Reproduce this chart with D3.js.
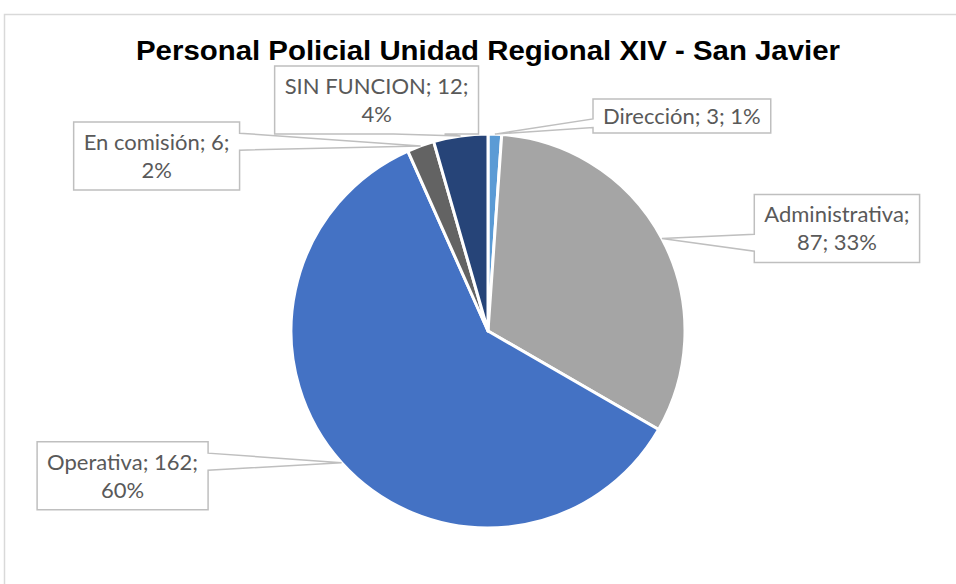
<!DOCTYPE html>
<html>
<head>
<meta charset="utf-8">
<script src="https://cdn.jsdelivr.net/npm/d3@7"></script>
<style>
  body { margin: 0; background: #fff; }
</style>
</head>
<body>
<div id="chart"></div>
<script>
const title = 'Personal Policial Unidad Regional XIV - San Javier'
const categories = ['Dirección', 'Administrativa', 'Operativa', 'En comisión', 'SIN FUNCION']
const values = [3, 87, 162, 6, 12]
const percentLabels = ['1%', '33%', '60%', '2%', '4%']
const colors = ['#5b9bd5', '#a5a5a5', '#4472c4', '#636363', '#264478']

const width = 956
const height = 584
const cx = 488
const cy = 331
const radius = 197
// centre of each label box, relative to the point on the slice edge
const labelOffsets = [[187, -18], [175, -10], [-219, 13], [-264, 10], [-84, -36]]
// text width at which each label wraps
const wrapWidths = [200, 170, 170, 170, 190]
const FONT_SIZE = 22
const LINE_H = 28
const PAD_X = 10

const svg = d3.select('#chart').append('svg')
  .attr('width', width).attr('height', height)

// chart area frame (continues past the right and bottom edge)
svg.append('rect')
  .attr('x', 4.5).attr('y', 14.5).attr('width', 1000).attr('height', 1000)
  .attr('fill', '#fff').attr('stroke', '#d9d9d9').attr('stroke-width', 1.5)

svg.append('text')
  .attr('x', cx).attr('y', 60)
  .attr('text-anchor', 'middle')
  .attr('font-family', '"Liberation Sans", Arial, sans-serif')
  .attr('font-weight', 'bold').attr('font-size', 27)
  .attr('textLength', 704).attr('lengthAdjust', 'spacingAndGlyphs')
  .attr('fill', '#000')
  .text(title)

const pie = d3.pie().sort(null).value(d => d)
const arcs = pie(values)
const arc = d3.arc().innerRadius(0).outerRadius(radius)

const g = svg.append('g').attr('transform', `translate(${cx},${cy})`)
g.selectAll('path.slice')
  .data(arcs)
  .enter()
  .append('path')
  .attr('class', 'slice')
  .attr('d', arc)
  .attr('fill', (d, i) => colors[i])
  .attr('stroke', '#fff').attr('stroke-width', 3).attr('stroke-linejoin', 'round')

// Excel style wedge callout around a box, pointing at (tx, ty)
function callout (x0, y0, w, h, tx, ty) {
  const x1 = x0 + w, y1 = y0 + h
  const dx = (tx - (x0 + w / 2)) / w
  const dy = (ty - (y0 + h / 2)) / h
  const vertical = Math.abs(dy) > Math.abs(dx)
  const p = d3.path()
  p.moveTo(x0, y0)
  if (vertical && dy < 0) {
    const a = dx > 0 ? x0 + w * 7 / 12 : x0 + w * 2 / 12
    const b = dx > 0 ? x0 + w * 10 / 12 : x0 + w * 5 / 12
    p.lineTo(a, y0); p.lineTo(tx, ty); p.lineTo(b, y0)
  }
  p.lineTo(x1, y0)
  if (!vertical && dx > 0) {
    const a = dy > 0 ? y0 + h * 7 / 12 : y0 + h * 2 / 12
    const b = dy > 0 ? y0 + h * 10 / 12 : y0 + h * 5 / 12
    p.lineTo(x1, a); p.lineTo(tx, ty); p.lineTo(x1, b)
  }
  p.lineTo(x1, y1)
  if (vertical && dy > 0) {
    const a = dx > 0 ? x0 + w * 10 / 12 : x0 + w * 5 / 12
    const b = dx > 0 ? x0 + w * 7 / 12 : x0 + w * 2 / 12
    p.lineTo(a, y1); p.lineTo(tx, ty); p.lineTo(b, y1)
  }
  p.lineTo(x0, y1)
  if (!vertical && dx < 0) {
    const a = dy > 0 ? y0 + h * 10 / 12 : y0 + h * 5 / 12
    const b = dy > 0 ? y0 + h * 7 / 12 : y0 + h * 2 / 12
    p.lineTo(x0, a); p.lineTo(tx, ty); p.lineTo(x0, b)
  }
  p.closePath()
  return p.toString()
}

const measure = svg.append('text')
  .attr('font-family', 'Lato, "Open Sans", sans-serif').attr('font-size', FONT_SIZE)
  .attr('visibility', 'hidden')
function textWidth (s) {
  measure.text(s)
  return measure.node().getComputedTextLength()
}
function wrap (s, maxW) {
  const words = s.split(' ')
  const lines = []
  let line = words[0]
  for (let k = 1; k < words.length; k++) {
    const test = line + ' ' + words[k]
    if (textWidth(test) > maxW) { lines.push(line); line = words[k] } else line = test
  }
  lines.push(line)
  return lines
}

const labels = svg.append('g')
arcs.forEach((d, i) => {
  const mid = (d.startAngle + d.endAngle) / 2
  const tx = cx + radius * Math.sin(mid)
  const ty = cy - radius * Math.cos(mid)
  const lines = wrap(`${categories[i]}; ${values[i]}; ${percentLabels[i]}`, wrapWidths[i])
  const w = d3.max(lines, textWidth) + PAD_X * 2
  const h = 34 * lines.length
  const bx = tx + labelOffsets[i][0]
  const by = ty + labelOffsets[i][1]

  labels.append('path')
    .attr('d', callout(bx - w / 2, by - h / 2, w, h, tx, ty))
    .attr('fill', '#fff').attr('stroke', '#bfbfbf').attr('stroke-width', 1.5)
    .attr('stroke-linejoin', 'miter')

  labels.append('g').selectAll('text')
    .data(lines)
    .enter()
    .append('text')
    .attr('x', bx)
    .attr('y', (t, k) => by + (k - (lines.length - 1) / 2) * LINE_H)
    .attr('dy', '0.36em')
    .attr('text-anchor', 'middle')
    .attr('font-family', 'Lato, "Open Sans", sans-serif')
    .attr('font-size', FONT_SIZE)
    .attr('fill', '#595959')
    .text(t => t)
})
measure.remove()
</script>
</body>
</html>
